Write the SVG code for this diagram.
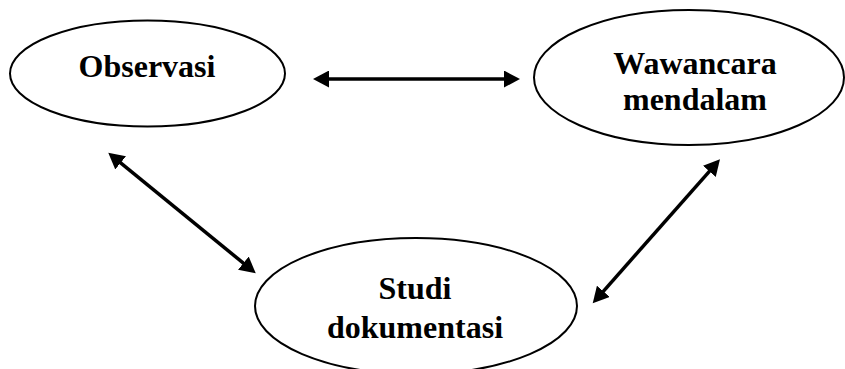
<svg xmlns="http://www.w3.org/2000/svg" width="845" height="369" viewBox="0 0 845 369">
<style>
.node ellipse{fill:#fff;stroke:#000;stroke-width:2}
.node text{font-family:"Liberation Serif","Times New Roman",serif;font-weight:bold;font-size:32px;fill:#000;text-anchor:middle}
.conn line{stroke:#000;stroke-width:3.5;marker-start:url(#ah);marker-end:url(#ah)}
</style>
<defs>
<marker id="ah" markerUnits="userSpaceOnUse" markerWidth="17" markerHeight="17" refX="2" refY="8.5" orient="auto-start-reverse" viewBox="0 0 17 17">
<path d="M0,0 L16,8.5 L0,17 Z" fill="#000"/>
</marker>
</defs>
<rect width="845" height="369" fill="#fff"/>
<g id="observasi" class="node">
<ellipse cx="147.5" cy="73.5" rx="137.5" ry="53"/>
<text x="147" y="77">Observasi</text>
</g>
<g id="wawancara" class="node">
<ellipse cx="689" cy="77.5" rx="155" ry="67.5"/>
<text x="695" y="73.5">Wawancara</text>
<text x="695" y="110">mendalam</text>
</g>
<g id="studi" class="node">
<ellipse cx="416" cy="306" rx="161" ry="68"/>
<text x="415" y="298.5">Studi</text>
<text x="415" y="337.5">dokumentasi</text>
</g>
<g id="connectors" class="conn">
<line x1="327" y1="79" x2="506" y2="79"/>
<line x1="119.1" y1="161.6" x2="244.9" y2="264.4"/>
<line x1="710.7" y1="169.8" x2="602" y2="292.8"/>
</g>
</svg>
